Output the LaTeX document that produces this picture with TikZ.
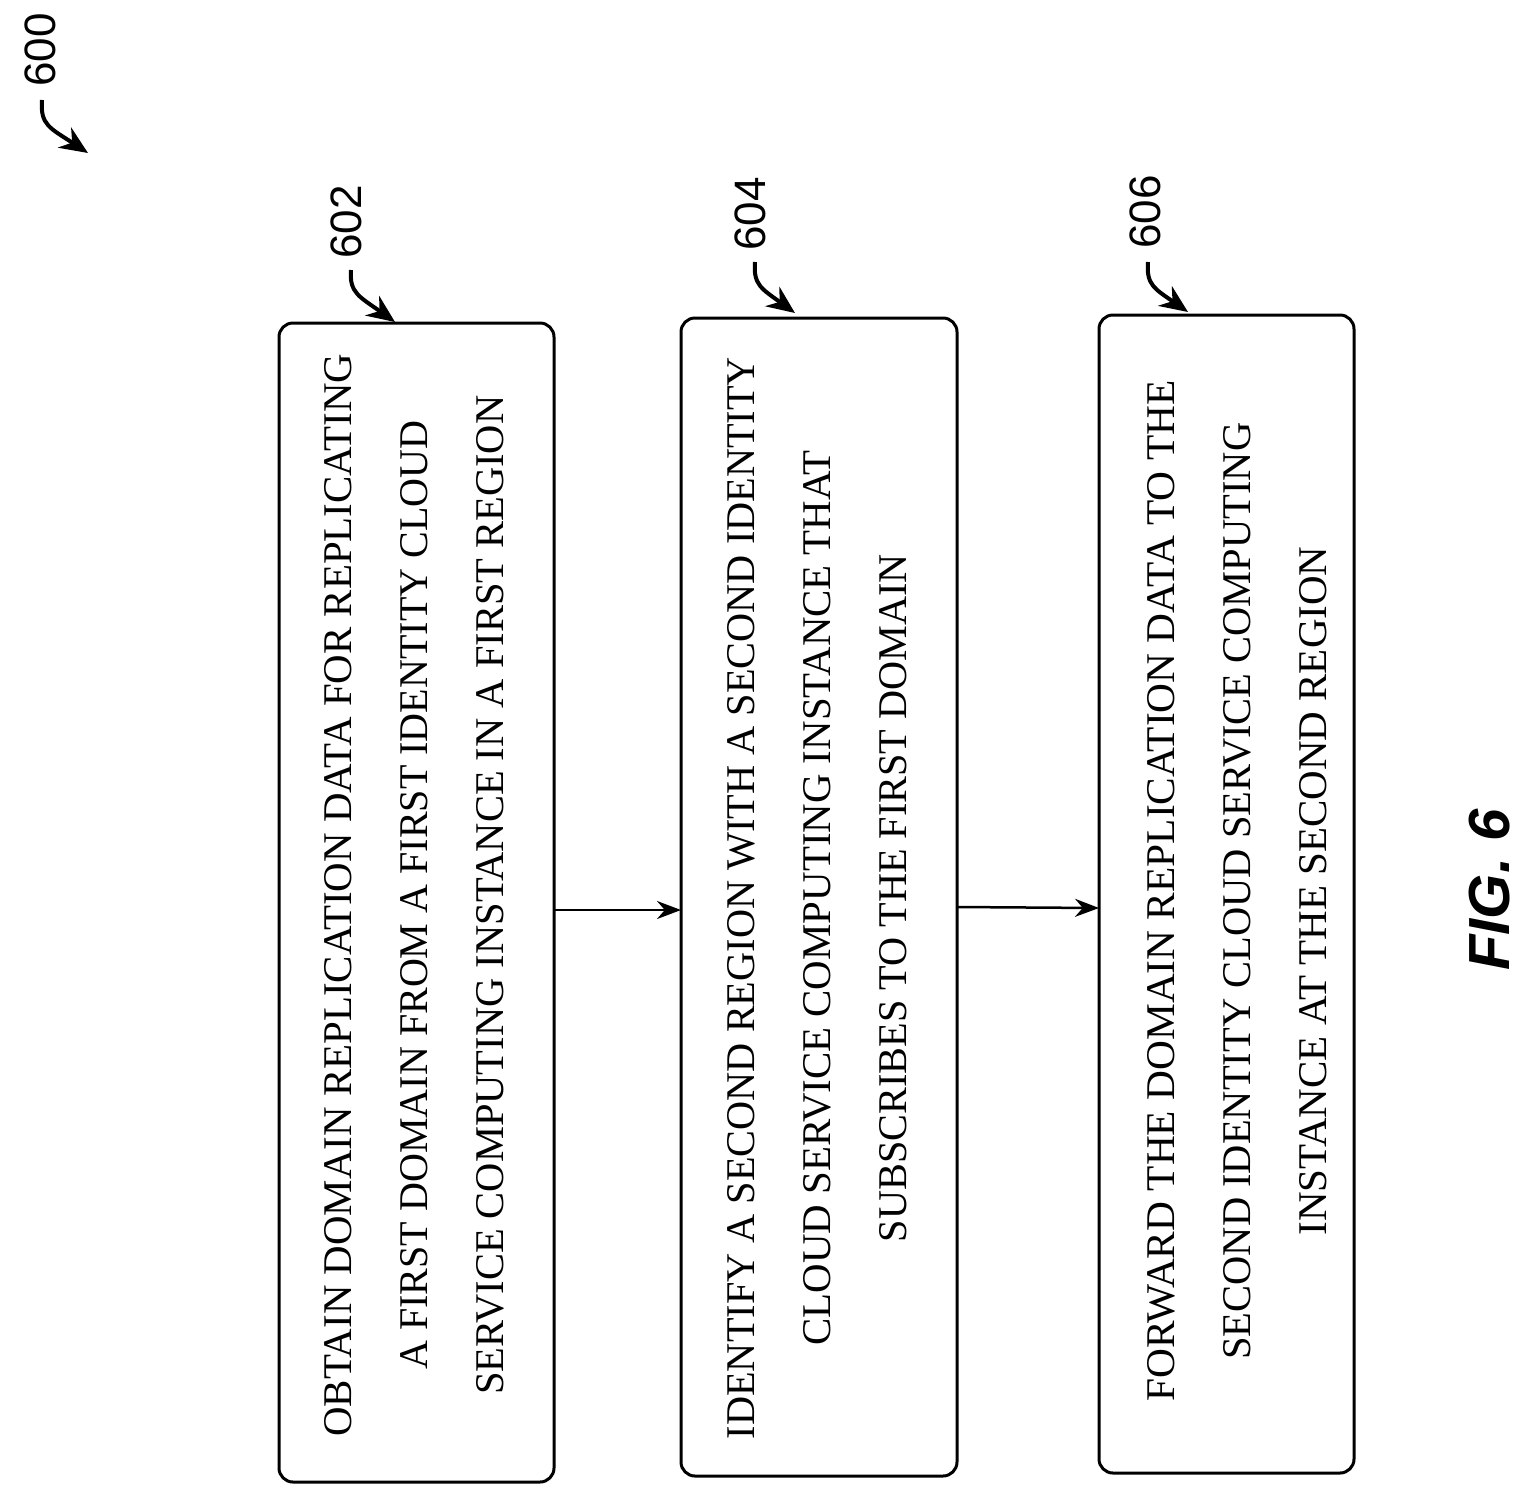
\documentclass[tikz,border=0pt]{standalone}
\usepackage{fontspec}
\setmainfont{Liberation Serif}
\newfontfamily\lsans{Liberation Sans}
\usetikzlibrary{arrows.meta}
\newcommand{\fitline}[2]{\resizebox{#1pt}{27pt}{#2}}
\begin{document}
\begin{tikzpicture}[x=1pt,y=-1pt,
  box/.style={draw,line width=3pt,rounded corners=14pt},
  txt/.style={rotate=90,align=center,font=\fontsize{10}{76}\selectfont},
  lab/.style={rotate=90,font=\lsans\fontsize{44}{44}\selectfont},
  conn/.style={line width=2.5pt,-{Stealth[length=24pt,width=18pt]}},
  call/.style={line width=4pt,-{Stealth[length=28pt,width=24pt]}}]
\useasboundingbox (0,0) rectangle (1531,1505);
\draw[box] (279,323) rectangle (554,1482);
\draw[box] (681,318) rectangle (957,1476);
\draw[box] (1099,315) rectangle (1354,1473);
\node[txt] (t1) at (414,895) {\fitline{1083}{OBTAIN DOMAIN REPLICATION DATA FOR REPLICATING}\\\fitline{949}{A FIRST DOMAIN FROM A FIRST IDENTITY CLOUD}\\\fitline{999}{SERVICE COMPUTING INSTANCE IN A FIRST REGION}};
\node[txt] (t2) at (817,898) {\fitline{1082}{IDENTIFY A SECOND REGION WITH A SECOND IDENTITY}\\\fitline{895}{CLOUD SERVICE COMPUTING INSTANCE THAT}\\\fitline{688}{SUBSCRIBES TO THE FIRST DOMAIN}};
\node[txt] (t3) at (1237,891) {\fitline{1021}{FORWARD THE DOMAIN REPLICATION DATA TO THE}\\\fitline{937}{SECOND IDENTITY CLOUD SERVICE COMPUTING}\\\fitline{689}{INSTANCE AT THE SECOND REGION}};
\coordinate (a1) at (554,910); \coordinate (b1) at (681,910);
\coordinate (a2) at (957,907); \coordinate (b2) at (1099,908);
\draw[conn] (a1) -- (b1);
\draw[conn] (a2) -- (b2);
\node[lab] (l600) at (40,50) {600};
\node[lab] (l602) at (346,222) {602};
\node[lab] (l604) at (750,214) {604};
\node[lab] (l606) at (1145,212) {606};
\draw[call] (42,100) .. controls (40,125) and (50,128) .. (88,153);
\draw[call] (351,270) .. controls (349,293) and (360,297) .. (395,322);
\draw[call] (755,262) .. controls (753,285) and (762,289) .. (795,313);
\draw[call] (1148,262) .. controls (1146,285) and (1155,289) .. (1188,312);
\node[rotate=90,font=\lsans\bfseries\itshape\fontsize{58}{58}\selectfont] (fig) at (1490,890) {FIG. 6};
\end{tikzpicture}
\end{document}
